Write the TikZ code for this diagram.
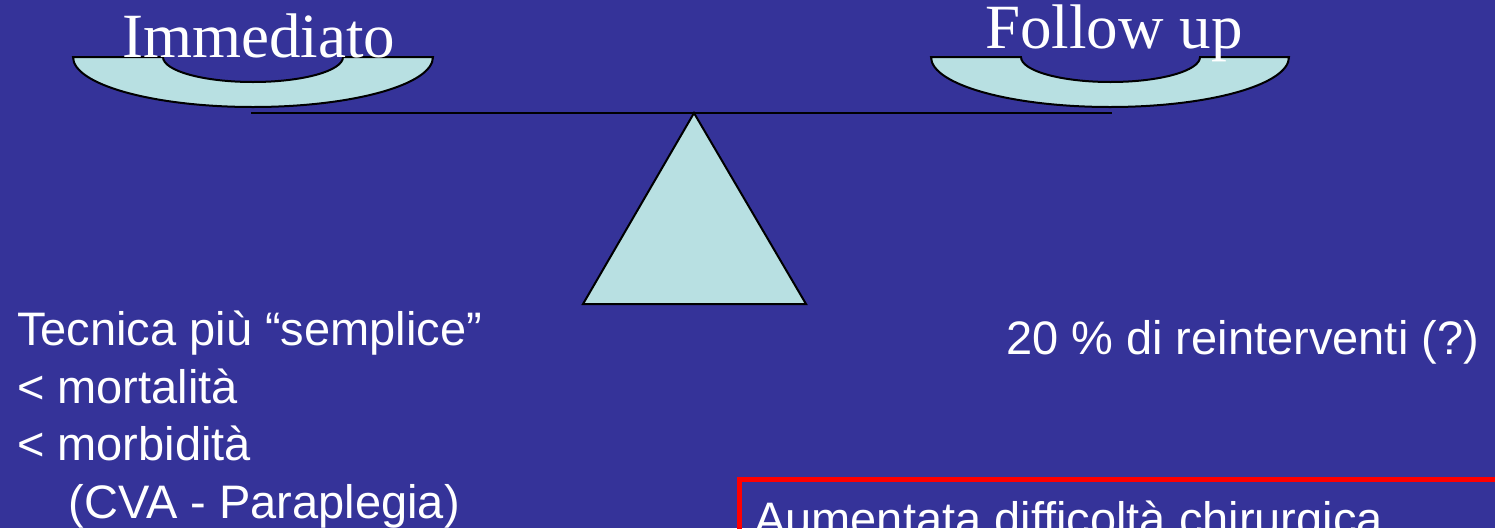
\documentclass[tikz,border=0pt]{standalone}
\usepackage{fontspec}
\setmainfont{Liberation Sans}
\newfontfamily\panfont{Liberation Serif}
\usepackage{tikz}
\usetikzlibrary{positioning}
\definecolor{ScaleBack}{HTML}{353399}
\definecolor{ScalePan}{HTML}{B8E0E2}
\definecolor{ScaleRed}{HTML}{FF0000}

\begin{document}
\begin{tikzpicture}[x=1pt,y=-1pt,
    panpart/.style={draw=black,line width=2pt,fill=ScalePan},
    pantitle/.style={text=white,inner sep=0pt,anchor=base west,font=\panfont\fontsize{63}{70}\selectfont},
    bodytext/.style={text=white,inner sep=0pt,anchor=base west,align=left,
                     font=\fontsize{47}{57.5}\selectfont}]
  \useasboundingbox (0,0) rectangle (1495,528);
  \clip (0,0) rectangle (1495,528);
  \fill[ScaleBack] (0,0) rectangle (1495,528);
  % beam and pivot
  \draw[line width=2pt] (251,113) -- (1112,113);
  \draw[panpart,line join=miter] (694,113) -- (806,304) -- (583,304) -- cycle;
  % left pan
  \draw[panpart] (73,57) -- (163,57)
        arc[start angle=180,end angle=0,x radius=90,y radius=25] -- (433,57)
        arc[start angle=0,end angle=180,x radius=180,y radius=50] -- cycle;
  % right pan
  \draw[panpart] (931,57) -- (1021,57)
        arc[start angle=180,end angle=0,x radius=89.5,y radius=25] -- (1289,57)
        arc[start angle=0,end angle=180,x radius=179,y radius=50] -- cycle;
  \node[pantitle] (immediato) at (122,57) {Immediato};
  \node[pantitle] (followup) at (985,48) {Follow up};
  % texts
  \node[bodytext] (pro) at (17,518) {Tecnica più “semplice”\\
        < mortalità\\
        < morbidità\\
        \hspace*{1.1em}(CVA - Paraplegia)};
  \node[bodytext] (contro) at (1006,354) {20 \% di reinterventi (?)};
  \draw[ScaleRed,line width=5pt] (739.5,479.5) rectangle (1520,600);
  \node[bodytext] (difficolta) at (754,535) {Aumentata difficoltà chirurgica};
\end{tikzpicture}
\end{document}
